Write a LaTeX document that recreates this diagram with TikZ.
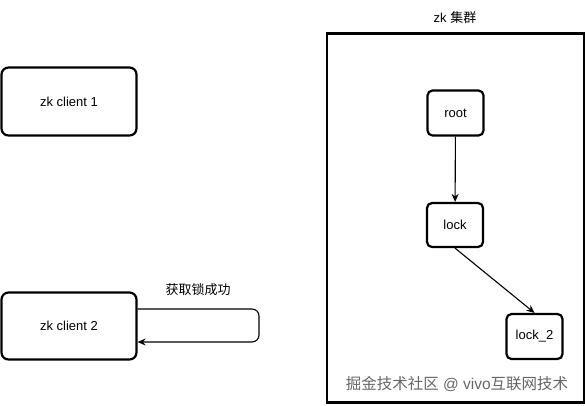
\documentclass[tikz,border=0pt]{standalone}
\usepackage{fontspec}
\setmainfont{Liberation Sans}
\newfontfamily\cjk{Noto Sans CJK SC}
\usetikzlibrary{arrows.meta,calc}
\begin{document}
\begin{tikzpicture}[x=1pt,y=-1pt,
  box/.style={draw=black,line width=2.2pt,rounded corners=7pt,fill=white,font=\fontsize{13}{15}\selectfont,inner sep=0pt},
  sbox/.style={draw=black,line width=2.2pt,rounded corners=5pt,fill=white,font=\fontsize{13}{15}\selectfont,inner sep=0pt},
  conn/.style={draw=black,line width=1.1pt,-{Stealth[length=8pt,width=7pt]}},
  lbl/.style={font=\fontsize{13}{15}\selectfont}]
\useasboundingbox (0,0) rectangle (585,405);
\fill[white] (0,0) rectangle (585,405);
% cluster frame
\node[draw=black,line width=2.2pt,minimum width=257pt,minimum height=369pt,inner sep=0pt] (cluster) at (455.5,218) {};
\node[lbl] (clusterlbl) at (455,18) {zk {\cjk 集群}};
% clients
\node[box,minimum width=135pt,minimum height=68pt] (c1) at (69,101.5) {zk client 1};
\node[box,minimum width=135pt,minimum height=67pt] (c2) at (69,326) {zk client 2};
% zk nodes
\node[sbox,minimum width=56pt,minimum height=45pt] (root) at (455.5,113) {root};
\node[sbox,minimum width=56pt,minimum height=44pt] (lock) at (455,225) {lock};
\node[sbox,minimum width=56pt,minimum height=45pt] (lock2) at (534.5,336.5) {lock\_2};
\draw[conn] (root) -- (lock);
\draw[conn] (lock.south) -- (lock2.north);
% self loop
\coordinate (ls) at ($(c2.east)+(0,-17)$);
\coordinate (le) at ($(c2.east)+(0,16)$);
\draw[conn,rounded corners=7pt] (ls) -- (259,309) -- (259,342) -- (le);
\node[lbl] (looplbl) at (198,290) {\cjk 获取锁成功};
% watermark
\node[font=\fontsize{15.5}{18}\selectfont,text=black!60] (wm) at (457,384) {{\cjk 掘金技术社区} @ vivo{\cjk 互联网技术}};
\end{tikzpicture}
\end{document}
